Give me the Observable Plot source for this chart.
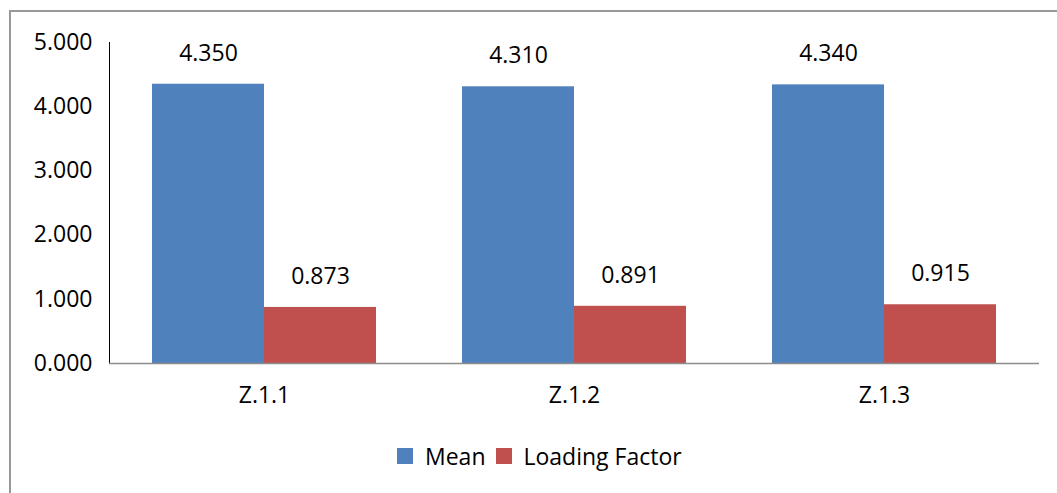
<!DOCTYPE html>
<html>
<head>
<meta charset="utf-8">
<script src="https://cdn.jsdelivr.net/npm/d3@7"></script>
<script src="https://cdn.jsdelivr.net/npm/@observablehq/plot@0.6"></script>
<style>
  html, body { margin: 0; padding: 0; background: #fff; overflow: hidden; }
  #wrap { position: relative; width: 1057px; height: 493px; }
  #border { position: absolute; left: 9px; top: 10px; width: 1100px; height: 600px; border: 2px solid #989898; box-sizing: border-box; }
  #chart { position: absolute; left: 0; top: 0; }
  #legend { position: absolute; left: 397px; top: 440px; display: flex; align-items: center; font-family: "Open Sans", sans-serif; font-size: 23px; color: #000; }
  .sw { width: 16px; height: 16px; display: inline-block; margin-right: 12px; }
  .item { display: flex; align-items: center; margin-right: 10px; }
</style>
</head>
<body>
<div id="wrap">
  <div id="border"></div>
  <div id="chart"></div>
  <div id="legend"></div>
</div>
<script>
const categories = ["Z.1.1", "Z.1.2", "Z.1.3"];
const seriesNames = ["Mean", "Loading Factor"];
const meanValues = [4.350, 4.310, 4.340];
const loadingValues = [0.873, 0.891, 0.915];
const colors = ["#4F81BD", "#C0504D"];
const yTicks = [0, 1, 2, 3, 4, 5];

const data = [];
categories.forEach((c, i) => {
  data.push({cat: c, series: seriesNames[0], value: meanValues[i]});
  data.push({cat: c, series: seriesNames[1], value: loadingValues[i]});
});

const plot = Plot.plot({
  width: 1057,
  height: 420,
  marginTop: 42,
  marginBottom: 57,
  marginLeft: 108,
  marginRight: 18,
  style: {fontFamily: "'Open Sans', sans-serif", fontSize: "23px", color: "#000", background: "transparent"},
  fx: {domain: categories, padding: 0, label: null, tickSize: 0, tickPadding: 23, axis: "bottom"},
  x: {domain: seriesNames, paddingInner: 0, paddingOuter: 0.38, axis: null},
  y: {domain: [0, 5], ticks: yTicks, tickFormat: d3.format(".3f"), tickSize: 0, tickPadding: 17, label: null, line: true},
  color: {domain: seriesNames, range: colors},
  marks: [
    Plot.barY(data, {fx: "cat", x: "series", y: "value", fill: "series"}),
    Plot.text(data, {fx: "cat", x: "series", y: "value", text: d => d3.format(".3f")(d.value), dy: -31, fontSize: 23, fill: "#000"}),
    Plot.ruleY([0], {stroke: "#8c8c8c", strokeWidth: 1.5})
  ]
});
plot.querySelectorAll("[aria-label='y-axis line'], [aria-label='y-axis domain']").forEach(e => { e.setAttribute("stroke", "#8c8c8c"); });
document.getElementById("chart").appendChild(plot);

const legend = document.getElementById("legend");
seriesNames.forEach((s, i) => {
  const item = document.createElement("div");
  item.className = "item";
  const sw = document.createElement("span");
  sw.className = "sw";
  sw.style.background = colors[i];
  const t = document.createElement("span");
  t.textContent = s;
  item.appendChild(sw);
  item.appendChild(t);
  legend.appendChild(item);
});
</script>
</body>
</html>
